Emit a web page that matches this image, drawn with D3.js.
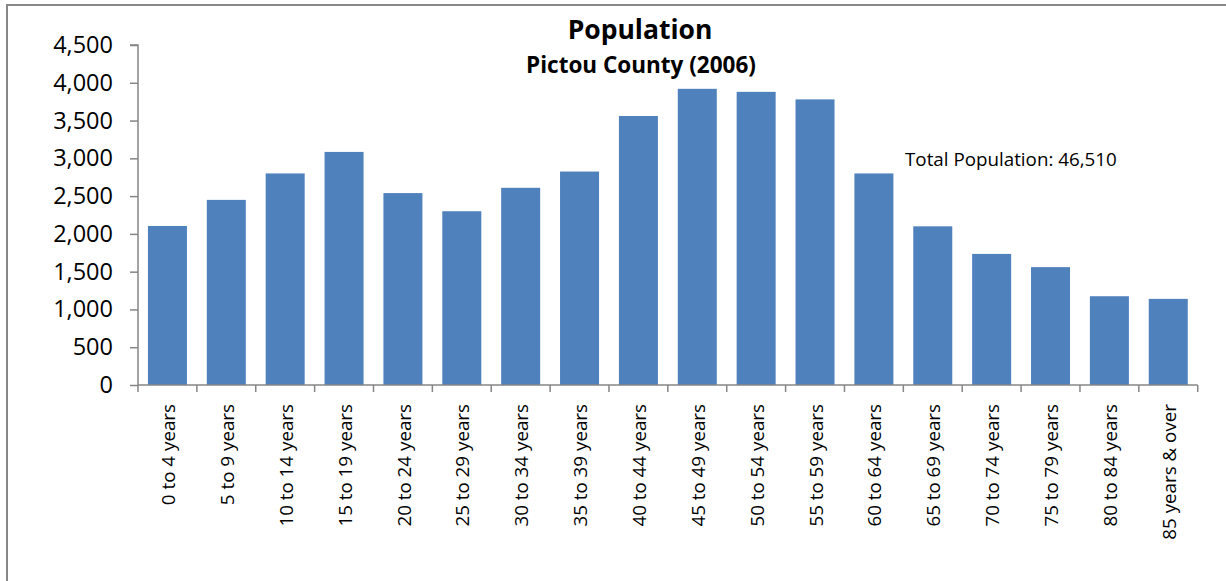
<!DOCTYPE html>
<html>
<head>
<meta charset="utf-8">
<script src="https://cdn.jsdelivr.net/npm/d3@7"></script>
<style>
  html, body { margin: 0; padding: 0; background: #fff; }
  svg { display: block; font-family: "Open Sans", sans-serif; }
</style>
</head>
<body>
<svg id="chart" width="1226" height="581"></svg>
<script>
const categories = ["0 to 4 years","5 to 9 years","10 to 14 years","15 to 19 years","20 to 24 years","25 to 29 years","30 to 34 years","35 to 39 years","40 to 44 years","45 to 49 years","50 to 54 years","55 to 59 years","60 to 64 years","65 to 69 years","70 to 74 years","75 to 79 years","80 to 84 years","85 years & over"];
const population = [2105, 2450, 2800, 3085, 2540, 2300, 2610, 2825, 3560, 3920, 3880, 3780, 2800, 2100, 1735, 1560, 1175, 1140];
const yTicks = [0, 500, 1000, 1500, 2000, 2500, 3000, 3500, 4000, 4500];
const title = "Population";
const subtitle = "Pictou County (2006)";
const note = "Total Population: 46,510";

(function () {
const svg = d3.select("#chart");
const pLeft = 138, pRight = 1197.7, pTop = 45, pBottom = 385;
const pad = 0.3375;
const axisColor = "#868686";

// frame
svg.append("line").attr("x1", 7).attr("x2", 7).attr("y1", 5).attr("y2", 581)
  .attr("stroke", "#878787").attr("stroke-width", 2);
svg.append("line").attr("x1", 6).attr("x2", 1226).attr("y1", 5).attr("y2", 5)
  .attr("stroke", "#878787").attr("stroke-width", 2);

const x = d3.scaleBand().domain(categories).range([pLeft, pRight])
  .paddingInner(pad).paddingOuter(pad / 2);
const y = d3.scaleLinear().domain([0, 4500]).range([pBottom, pTop]);

// bars
svg.append("g").selectAll("rect").data(categories).join("rect")
  .attr("x", d => x(d))
  .attr("width", x.bandwidth())
  .attr("y", (d, i) => y(population[i]))
  .attr("height", (d, i) => y(0) - y(population[i]))
  .attr("fill", "#4F81BD");

// y axis
const yAxis = d3.axisLeft(y).tickValues(yTicks).tickSize(8).tickPadding(17)
  .tickFormat(d3.format(","));
const gy = svg.append("g").attr("transform", `translate(${pLeft},0)`).call(yAxis);
gy.select(".domain").attr("stroke", axisColor).attr("stroke-width", 1.5).attr("d", `M-8,${pTop}H0V${pBottom}`);
gy.selectAll(".tick line").attr("stroke", axisColor).attr("stroke-width", 1.5);
gy.selectAll(".tick text").attr("font-size", "23.5px").attr("fill", "#000")
  .attr("font-family", "'Open Sans', sans-serif");

// x axis line and boundary ticks
const step = x.step();
const bounds = categories.map(c => x(c) - step * pad / 2).concat([x(categories[categories.length - 1]) + x.bandwidth() + step * pad / 2]);
svg.append("line").attr("x1", pLeft).attr("x2", pRight).attr("y1", pBottom).attr("y2", pBottom)
  .attr("stroke", axisColor).attr("stroke-width", 1.5);
svg.append("g").selectAll("line").data(bounds).join("line")
  .attr("x1", d => d).attr("x2", d => d).attr("y1", pBottom).attr("y2", pBottom + 7)
  .attr("stroke", axisColor).attr("stroke-width", 1.5);

// x labels
svg.append("g").selectAll("text").data(categories).join("text")
  .attr("transform", d => `translate(${x(d) + x.bandwidth() / 2 + 1},${pBottom + 19}) rotate(-90)`)
  .attr("text-anchor", "end")
  .attr("dy", "0.35em")
  .attr("font-size", "18.8px")
  .attr("fill", "#000")
  .text(d => d);

// titles
svg.append("text").attr("x", 640).attr("y", 39).attr("text-anchor", "middle")
  .attr("font-size", "26.5px").attr("font-weight", "bold").attr("fill", "#000").text(title);
svg.append("text").attr("x", 641).attr("y", 73).attr("text-anchor", "middle")
  .attr("font-size", "22.5px").attr("font-weight", "bold").attr("fill", "#000").text(subtitle);

// note
svg.append("text").attr("x", 905).attr("y", 166)
  .attr("font-size", "18.8px").attr("fill", "#000").text(note);
})();
</script>
</body>
</html>
